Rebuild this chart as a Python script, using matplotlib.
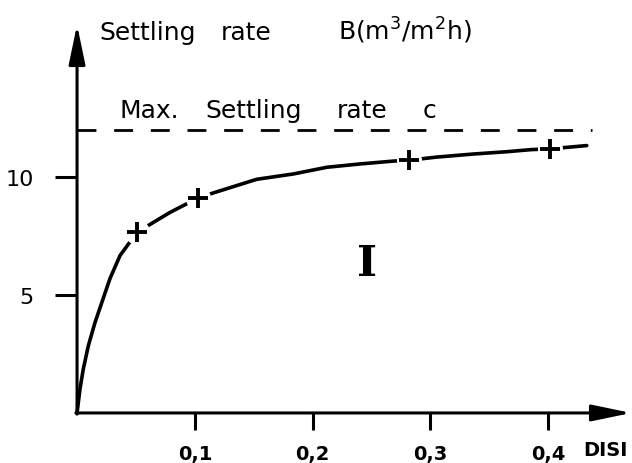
import matplotlib
matplotlib.use("Agg")
import matplotlib.pyplot as plt

# curve (DIS, settling rate B)
curve_x = [0.0, 0.0025, 0.0053, 0.0096, 0.0153, 0.0215, 0.028, 0.0365, 0.045, 0.0512,
           0.0603, 0.079, 0.093, 0.103, 0.113, 0.132, 0.1525, 0.184, 0.212, 0.240,
           0.268, 0.282, 0.305, 0.336, 0.365, 0.386, 0.4015, 0.4327]
curve_y = [0.0, 1.02, 1.86, 2.85, 3.84, 4.75, 5.7, 6.67, 7.25, 7.66,
           7.94, 8.5, 8.86, 9.11, 9.28, 9.58, 9.9, 10.13, 10.41, 10.55,
           10.67, 10.71, 10.84, 10.97, 11.07, 11.16, 11.19, 11.33]

# measured points (+)
point_x = [0.0512, 0.103, 0.282, 0.4015]
point_y = [7.66, 9.11, 10.71, 11.19]

max_rate = 12.0
max_rate_end = 0.437

xticks = [0.1, 0.2, 0.3, 0.4]
xtick_labels = ["0,1", "0,2", "0,3", "0,4"]
yticks = [5, 10]
ytick_labels = ["5", "10"]

fig = plt.figure(figsize=(6.32, 4.64), dpi=100)
ax = fig.add_axes([0, 0, 1, 1])
ax.set_xlim(-0.0654, 0.4711)
ax.set_ylim(-2.12, 17.54)

for s in ax.spines.values():
    s.set_visible(False)
ax.spines['left'].set_position(('data', 0))
ax.spines['bottom'].set_position(('data', 0))

# axes with arrows
arrow = dict(arrowstyle='-|>,head_length=2.4,head_width=0.5',
             lw=2.2, color='black', shrinkA=0, shrinkB=0)
ax.annotate('', xy=(0.4705, 0), xytext=(-0.001, 0), arrowprops=arrow)
ax.annotate('', xy=(0, 16.45), xytext=(0, -0.05), arrowprops=arrow)

ax.set_xticks(xticks)
ax.set_xticklabels(xtick_labels, fontsize=14, fontweight='bold')
ax.set_yticks(yticks)
ax.set_yticklabels(ytick_labels, fontsize=16)
ax.tick_params(axis='x', direction='out', length=12, width=2.2, pad=10)
ax.tick_params(axis='y', direction='out', length=16, width=2.2, pad=15)

# max settling rate
ax.plot([0, max_rate_end], [max_rate, max_rate], color='black', lw=2.0,
        dashes=(6.8, 6.4))
for word, wx in [("Max.", 0.0357), ("Settling", 0.1087), ("rate", 0.2207), ("c", 0.2937)]:
    ax.text(wx, 12.54, word, fontsize=18, va='baseline')

# curve
ax.plot(curve_x, curve_y, color='black', lw=2.6, solid_capstyle='round')
ax.plot(point_x, point_y, 'o', color='white', markersize=17, zorder=3)
ax.plot(point_x, point_y, '+', color='black', markersize=15, mew=2.8, zorder=4)

ax.text(0.246, 6.36, "I", fontsize=31, family='DejaVu Serif', fontweight='bold',
        ha='center', va='center')

# y-axis title
for word, wx in [("Settling", 0.0187), ("rate", 0.1222), ("B(m$^3$/m$^2$h)", 0.2216)]:
    ax.text(wx, 15.85, word, fontsize=18, va='baseline')
ax.text(0.4295, -1.53, "DISI", fontsize=14, fontweight='bold', va='center')

fig.savefig("out.png", dpi=100)
